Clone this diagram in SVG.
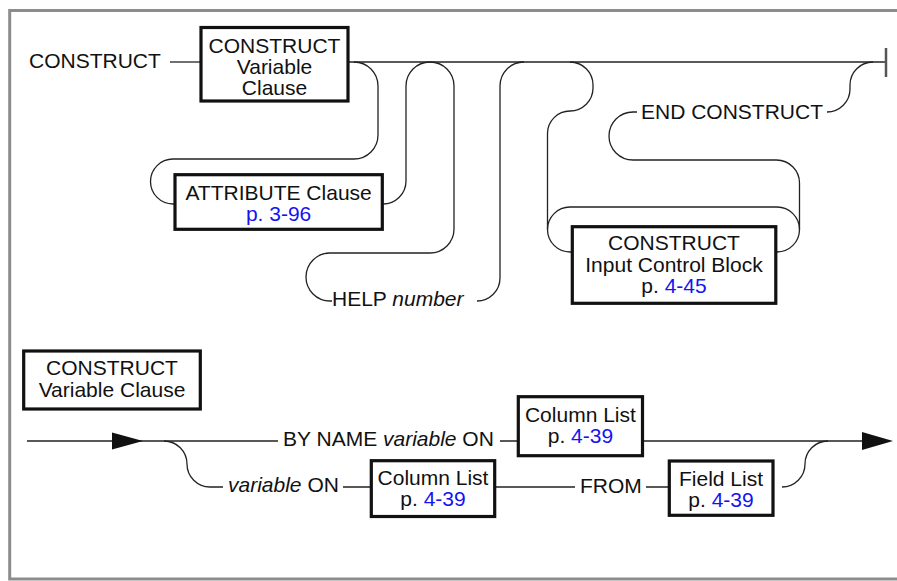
<svg xmlns="http://www.w3.org/2000/svg" width="897" height="581" viewBox="0 0 897 581">
<style>
text{font-family:"Liberation Sans",Arial,sans-serif;font-size:21px;fill:#111}
.c{text-anchor:middle}
.i{font-style:italic}
.b{fill:#1414f0}
.box{fill:#fff;stroke:#111;stroke-width:3.2}
.ln{fill:none;stroke:#222;stroke-width:1.3}
.frame{fill:none;stroke:#8c8c8c;stroke-width:3}
</style>
<rect width="897" height="581" fill="#fff"/>
<path class="frame" d="M897,10.5 H9.7 V579 H897"/>

<g id="connectors">
  <path class="ln" d="M170,62 H201"/>
  <path class="ln" d="M348,62 H886"/>
  <path d="M886,48 V77" stroke="#555" stroke-width="2.5" fill="none"/>
  <path class="ln" d="M354,62 A24,24 0 0 1 378,86 V135 A24,24 0 0 1 354,159 H173 A22.5,22.5 0 0 0 173,204 H175"/>
  <path class="ln" d="M382,204 H383 A23,23 0 0 0 406,181 V86 A24,24 0 0 1 454,86 V229 A24,24 0 0 1 430,253 H330 A24,24 0 0 0 330,301 H332"/>
  <path class="ln" d="M477,301 A23,23 0 0 0 500,278 V86 A24,24 0 0 1 524,62"/>
  <path class="ln" d="M570,62 A23,23 0 0 1 593,85 V88 A23,23 0 0 1 570,111 A22.5,22.5 0 0 0 547.5,133.5 V229.5 A22.5,22.5 0 0 0 570,252 H572"/>
  <path class="ln" d="M547.5,229.5 A22.5,22.5 0 0 1 570,207 H777 A22.5,22.5 0 0 1 799.5,229.5 A22.5,22.5 0 0 1 777,252 H776"/>
  <path class="ln" d="M799.5,229.5 V183 A23,23 0 0 0 776.5,160 H633 A24,24 0 0 1 633,112 H637"/>
  <path class="ln" d="M827,112 A23,23 0 0 0 850,89 V85 A23,23 0 0 1 873,62"/>

  <path class="ln" d="M27,441 H278 M500,441 H518 M643,441 H866"/>
  <polygon points="112,432.5 143,441 112,449.5" fill="#111"/>
  <polygon points="862,432 893,441 862,450" fill="#111"/>
  <path class="ln" d="M164,441 A23,23 0 0 1 187,464 A23,23 0 0 0 210,487 H223"/>
  <path class="ln" d="M343,487 H371 M495,487 H575 M646,487 H669"/>
  <path class="ln" d="M782,487 A23,23 0 0 0 805,464 A23,23 0 0 1 828,441"/>
</g>

<g id="kw-construct"><text x="29" y="68">CONSTRUCT</text></g>

<g id="construct-variable-clause">
  <rect class="box" x="201" y="27.5" width="147" height="73.5"/>
  <text class="c" x="274.5" y="53">CONSTRUCT</text>
  <text class="c" x="274.5" y="74">Variable</text>
  <text class="c" x="274.5" y="95">Clause</text>
</g>

<g id="attribute-clause">
  <rect class="box" x="175" y="174.7" width="207.3" height="54.6"/>
  <text class="c" x="278.6" y="200">ATTRIBUTE Clause</text>
  <text class="c b" x="278.6" y="221">p. 3-96</text>
</g>

<g id="help-number"><text x="332" y="306">HELP <tspan class="i">number</tspan></text></g>

<g id="end-construct"><text x="641" y="119">END CONSTRUCT</text></g>

<g id="input-control-block">
  <rect class="box" x="572.3" y="226.7" width="203.5" height="76.6"/>
  <text class="c" x="674" y="250">CONSTRUCT</text>
  <text class="c" x="674" y="271.5">Input Control Block</text>
  <text class="c" x="674" y="293">p. <tspan class="b">4-45</tspan></text>
</g>

<g id="def-construct-variable-clause">
  <rect class="box" x="23.7" y="351" width="176.6" height="58"/>
  <text class="c" x="112" y="375">CONSTRUCT</text>
  <text class="c" x="112" y="397">Variable Clause</text>
</g>

<g id="by-name"><text x="283" y="446">BY NAME <tspan class="i">variable</tspan> ON</text></g>

<g id="column-list-1">
  <rect class="box" x="518.3" y="396.7" width="124.2" height="59"/>
  <text class="c" x="580.4" y="422">Column List</text>
  <text class="c" x="580.4" y="443">p. <tspan class="b">4-39</tspan></text>
</g>

<g id="variable-on"><text x="228" y="492"><tspan class="i">variable</tspan> ON</text></g>

<g id="column-list-2">
  <rect class="box" x="371.3" y="460.7" width="123.4" height="55.8"/>
  <text class="c" x="433" y="484.5">Column List</text>
  <text class="c" x="433" y="505.5">p. <tspan class="b">4-39</tspan></text>
</g>

<g id="from"><text x="580" y="493">FROM</text></g>

<g id="field-list">
  <rect class="box" x="669.3" y="461" width="103.7" height="54.3"/>
  <text class="c" x="721" y="486">Field List</text>
  <text class="c" x="721" y="507">p. <tspan class="b">4-39</tspan></text>
</g>
</svg>
